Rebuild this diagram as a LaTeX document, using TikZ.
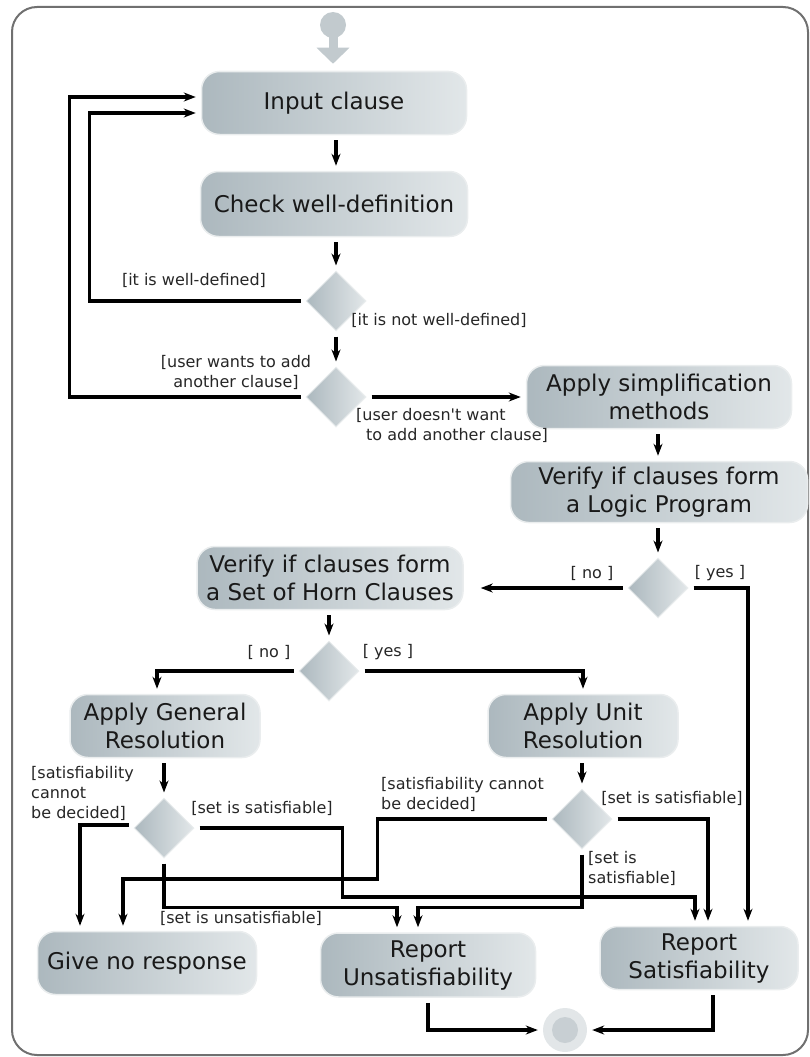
\documentclass[tikz,border=0pt]{standalone}
\usepackage{fontspec}
\setmainfont{DejaVu Sans}[Ligatures=TeXOff]
\usetikzlibrary{arrows.meta, shapes.geometric}

\definecolor{actdark}{RGB}{172,184,190}
\definecolor{actlight}{RGB}{226,231,233}
\definecolor{acthalo}{RGB}{234,237,238}
\definecolor{startgray}{RGB}{194,202,206}
\definecolor{endouter}{RGB}{226,230,232}
\definecolor{endinner}{RGB}{200,207,211}
\definecolor{framegray}{RGB}{112,112,112}

\begin{document}
\begin{tikzpicture}[
  x=1pt, y=-1pt,
  >={Stealth[length=12pt, width=9pt]},
  act/.style={draw=acthalo, line width=1.5pt, rounded corners=18pt,
              left color=actdark, right color=actlight, align=center,
              text=black!90, font=\fontsize{23}{28}\selectfont,
              minimum height=63pt, inner sep=2pt},
  choice/.style={diamond, draw=acthalo, line width=1pt, left color=actdark,
                 right color=actlight, minimum width=60pt, minimum height=60pt,
                 inner sep=0pt},
  guard/.style={font=\fontsize{16}{20}\selectfont, inner sep=0pt, text=black!85},
  flow/.style={->, line width=3.2pt, shorten <=5pt, shorten >=5pt},
]
\useasboundingbox (0,0) rectangle (809,1057);
\draw[framegray, line width=2pt, rounded corners=25pt] (12,7) rectangle (808,1055);

% ================= input loop =================
\node[act, minimum width=265pt] (input) at (334,103) {Input clause};
\node[act, minimum width=267pt, minimum height=65pt] (check) at (334,204) {Check well-definition};
\node[choice] (d1) at (336,301) {};
\node[choice] (d2) at (336,397) {};

\node[circle, fill=startgray, minimum size=26pt, inner sep=0pt] (start) at (333,25) {};
\draw[startgray, line width=9pt, -{Triangle[length=16pt, width=32pt]}, shorten >=7pt]
  (start.center) -- (input.north -| start.center);

\draw[flow] (input.south -| d1.north) -- (check.north -| d1.north);
\draw[flow] (check.south -| d1.north) -- (d1.north);
\draw[flow] (d1.west) -- ++(-216,0) |- ([yshift=-10pt]input.west);
\draw[flow] (d1.south) -- (d2.north);
\draw[flow] (d2.west) -- ++(-236,0) |- ([yshift=6pt]input.west);

\node[guard] (gwell) at (194,280) {[it is well-defined]};
\node[guard] (gnotwell) at (439,320) {[it is not well-defined]};
\node[guard, align=center] (gadd) at (236,372) {[user wants to add\\another clause]};

% ================= simplification and logic program =================
\node[act, minimum width=265pt] (simpl) at (659,397) {Apply simplification\\methods};
\node[act, minimum width=297pt, minimum height=61pt] (logic) at (659,492) {Verify if clauses form\\a Logic Program};
\node[choice] (d3) at (658,588) {};

\draw[flow] (d2.east) -- (simpl.west);
\draw[flow] (simpl.south -| d3.north) -- (logic.north -| d3.north);
\draw[flow] (logic.south -| d3.north) -- (d3.north);

\node[guard, anchor=west, align=left] (gnoadd) at (356,425) {[user doesn't want\\\hspace*{10pt}to add another clause]};
\node[guard] (gno1) at (592,573) {[ no ]};
\node[guard] (gyes1) at (720,573) {[ yes ]};

% ================= horn clauses =================
\node[act, minimum width=266pt] (horn) at (330,578) {Verify if clauses form\\a Set of Horn Clauses};
\node[choice] (d4) at (329,671) {};
\node[act, minimum width=190pt] (general) at (165,726) {Apply General\\Resolution};
\node[act, minimum width=190pt] (unit) at (583,726) {Apply Unit\\Resolution};

\draw[flow, shorten >=17pt] (d3.west) -- (d3.west -| horn.east);
\draw[flow] (horn.south -| d4.north) -- (d4.north);
\draw[flow] (d4.west) -| ([xshift=-8pt]general.north);
\draw[flow] (d4.east) -| (unit.north);

\node[guard] (gno2) at (269,652) {[ no ]};
\node[guard] (gyes2) at (388,652) {[ yes ]};

% ================= resolution outcomes =================
\node[choice] (d5) at (164,828) {};
\node[choice] (d6) at (582,819) {};
\node[act, minimum width=219pt] (noresp) at (147,963) {Give no response};
\node[act, minimum width=215pt, minimum height=64pt] (unsat) at (428,965) {Report\\Unsatisfiability};
\node[act, minimum width=198pt] (sat) at (699,958) {Report\\Satisfiability};
\node[circle, fill=endouter, minimum size=44pt, inner sep=0pt,
      path picture={\fill[endinner] (path picture bounding box.center) circle (13pt);}] (final) at (565,1030) {};

\draw[flow] (general.south -| d5.north) -- (d5.north);
\draw[flow] (unit.south -| d6.north) -- (d6.north);

\draw[flow] ([yshift=3pt]d5.west) -| ([xshift=-67pt]noresp.north);
\draw[flow] (d5.east) -- ++(148,0) -- ++(0,69) -| ([xshift=-4pt]sat.north);
\draw[flow] (d5.south) -- ++(0,49) -| ([xshift=-31pt]unsat.north);

\draw[flow] (d6.west) -- ++(-174,0) -- ++(0,60) -| ([xshift=-24pt]noresp.north);
\draw[flow] (d6.east) -| ([xshift=9pt]sat.north);
\draw[flow] (d6.south) -- ++(0,58) -| ([xshift=-10pt]unsat.north);

\draw[flow] (d3.east) -| ([xshift=49pt]sat.north);

\draw[flow] (unsat.south) |- (final.west);
\draw[flow] ([xshift=14pt]sat.south) |- (final.east);

\node[guard, anchor=west, align=left] (gundec1) at (31,793) {[satisfiability\\cannot\\be decided]};
\node[guard] (gsat1) at (262,808) {[set is satisfiable]};
\node[guard] (gunsat) at (241,918) {[set is unsatisfiable]};
\node[guard, anchor=west, align=left] (gundec2) at (381,794) {[satisfiability cannot\\be decided]};
\node[guard] (gsat2) at (672,798) {[set is satisfiable]};
\node[guard, anchor=west, align=left] (gsat3) at (588,868) {[set is\\satisfiable]};

\end{tikzpicture}
\end{document}
